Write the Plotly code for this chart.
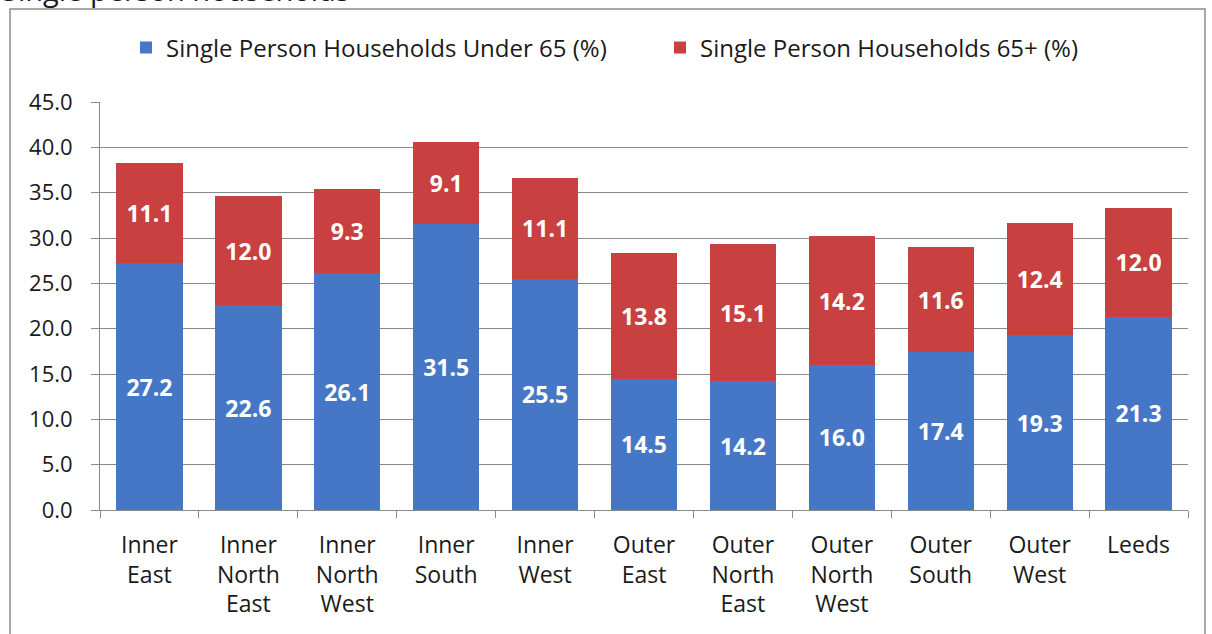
import plotly.graph_objects as go

categories = ["Inner<br>East", "Inner<br>North<br>East", "Inner<br>North<br>West", "Inner<br>South",
              "Inner<br>West", "Outer<br>East", "Outer<br>North<br>East", "Outer<br>North<br>West",
              "Outer<br>South", "Outer<br>West", "Leeds"]
under65 = [27.2, 22.6, 26.1, 31.5, 25.5, 14.5, 14.2, 16.0, 17.4, 19.3, 21.3]
over65 = [11.1, 12.0, 9.3, 9.1, 11.1, 13.8, 15.1, 14.2, 11.6, 12.4, 12.0]
series_names = ["Single Person Households Under 65 (%)", "Single Person Households 65+ (%)"]
title_text = "Single person households"

FONT = "Open Sans, sans-serif"
BLUE = "#4677c6"
RED = "#c8403f"

W, H = 1212, 634
L, R, T, B = 100, 24, 102, 124
PW = W - L - R
PH = H - T - B

def px_x(px):
    return (px - L) / PW

def px_y(py):
    return (H - B - py) / PH

fig = go.Figure()
for name, vals, col in [(series_names[0], under65, BLUE), (series_names[1], over65, RED)]:
    fig.add_trace(go.Bar(
        x=categories, y=vals, name=name, marker=dict(color=col, line=dict(width=0)),
        text=[f"{v:.1f}" for v in vals], textposition="inside", insidetextanchor="middle",
        textfont=dict(family=FONT, size=23, color="white", weight="bold"),
        textangle=0,
    ))

fig.update_layout(
    barmode="stack", bargap=0.33,
    width=W, height=H,
    margin=dict(l=L, r=R, t=T, b=B),
    paper_bgcolor="white", plot_bgcolor="white",
    font=dict(family=FONT, size=20, color="#1a1a1a"),
    uniformtext=dict(mode=False),
    legend=dict(orientation="h", x=px_x(126), xanchor="left", y=px_y(48), yanchor="middle",
                font=dict(family=FONT, size=24, color="#1a1a1a"), bgcolor="rgba(0,0,0,0)",
                entrywidth=489, entrywidthmode="pixels",
                itemsizing="constant", traceorder="normal"),
    showlegend=True,
)
fig.update_yaxes(range=[0, 45], dtick=5, tickformat=".1f", showgrid=True, gridcolor="#8a8a8a",
                 gridwidth=1, showline=True, linecolor="#8a8a8a", linewidth=1,
                 ticks="outside", ticklen=8, tickcolor="#8a8a8a", zeroline=False,
                 ticklabelstandoff=14,
                 tickfont=dict(family=FONT, size=22, color="#1a1a1a"))
fig.update_xaxes(showline=True, linecolor="#8a8a8a", linewidth=1, ticks="outside",
                 tickson="boundaries", ticklen=7, tickcolor="#8a8a8a",
                 ticklabelstandoff=14,
                 tickfont=dict(family=FONT, size=23, color="#1a1a1a"), tickangle=0)

# outer border
fig.add_shape(type="rect", xref="paper", yref="paper",
              x0=px_x(10), x1=px_x(1205), y0=px_y(645), y1=px_y(9),
              line=dict(color="#8c8c8c", width=1.5), fillcolor="rgba(0,0,0,0)", layer="below")

fig.add_annotation(text=title_text, xref="paper", yref="paper", x=px_x(0), y=px_y(11),
                   xanchor="left", yanchor="bottom", showarrow=False,
                   font=dict(family=FONT, size=29, color="#1a1a1a"))

fig.write_html("out.html", config={"displayModeBar": False},
               post_script="document.body.style.margin='0';")
